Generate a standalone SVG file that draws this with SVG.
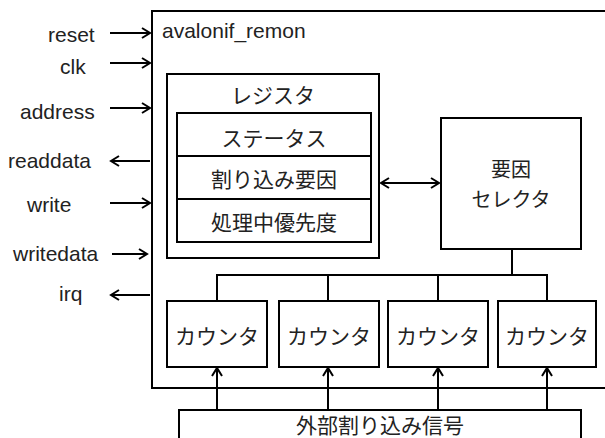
<svg xmlns="http://www.w3.org/2000/svg" width="605" height="438" viewBox="0 0 605 438">
<style>
.box{fill:#fff;stroke:#000;stroke-width:2}
.ln{fill:none;stroke:#000;stroke-width:2}
.lat{font-family:"Liberation Sans",Arial,sans-serif;font-size:21px;fill:#222}
.jp{font-family:"Noto Sans CJK JP","Noto Sans",sans-serif;font-size:21px;fill:#222;text-anchor:middle;dominant-baseline:central}
</style>
<defs>
<marker id="ah" markerUnits="userSpaceOnUse" markerWidth="14" markerHeight="14" viewBox="-10 -7 12 14" refX="0" refY="0" orient="auto-start-reverse">
<path d="M-8,-5 L0,0 L-8,5" fill="none" stroke="#000" stroke-width="2"/>
</marker>
</defs>
<rect width="605" height="438" fill="#fff"/>
<g id="avalonif_remon">
<rect class="box" x="152" y="11" width="470" height="377"/>
<text class="lat" x="162" y="38">avalonif_remon</text>
</g>
<g id="register">
<rect class="box" x="167" y="74" width="212" height="184"/>
<text class="jp" x="273" y="94">レジスタ</text>
<rect class="box" x="177" y="113" width="194" height="129"/>
<line class="ln" x1="177" y1="156" x2="371" y2="156"/>
<line class="ln" x1="177" y1="199" x2="371" y2="199"/>
<text class="jp" x="274" y="137">ステータス</text>
<text class="jp" x="274" y="178">割り込み要因</text>
<text class="jp" x="274" y="221">処理中優先度</text>
</g>
<g id="selector">
<rect class="box" x="441" y="118" width="140" height="131"/>
<text class="jp" x="511" y="168" style="font-size:20px">要因</text>
<text class="jp" x="511" y="198" style="font-size:20px">セレクタ</text>
</g>
<g id="counter1">
<rect class="box" x="167" y="301" width="100" height="66"/>
<text class="jp" x="217" y="335">カウンタ</text>
</g>
<g id="counter2">
<rect class="box" x="279" y="301" width="100" height="66"/>
<text class="jp" x="329" y="335">カウンタ</text>
</g>
<g id="counter3">
<rect class="box" x="388" y="301" width="100" height="66"/>
<text class="jp" x="438" y="335">カウンタ</text>
</g>
<g id="counter4">
<rect class="box" x="498" y="301" width="98" height="66"/>
<text class="jp" x="547" y="335">カウンタ</text>
</g>
<g id="external">
<rect class="box" x="179" y="410" width="402" height="40"/>
<text class="jp" x="380" y="424">外部割り込み信号</text>
</g>
<g id="signals">
<text class="lat" x="48" y="42">reset</text>
<text class="lat" x="60" y="74">clk</text>
<text class="lat" x="20" y="119">address</text>
<text class="lat" x="8" y="168">readdata</text>
<text class="lat" x="27" y="212">write</text>
<text class="lat" x="13" y="261">writedata</text>
<text class="lat" x="59" y="301">irq</text>
</g>
<g id="connectors">
<line class="ln" x1="110" y1="33" x2="150" y2="33" marker-end="url(#ah)"/>
<line class="ln" x1="110" y1="63" x2="150" y2="63" marker-end="url(#ah)"/>
<line class="ln" x1="110" y1="108" x2="150" y2="108" marker-end="url(#ah)"/>
<line class="ln" x1="150" y1="161" x2="111" y2="161" marker-end="url(#ah)"/>
<line class="ln" x1="110" y1="203" x2="150" y2="203" marker-end="url(#ah)"/>
<line class="ln" x1="112" y1="254" x2="147" y2="254" marker-end="url(#ah)"/>
<line class="ln" x1="150" y1="295" x2="111" y2="295" marker-end="url(#ah)"/>
<line class="ln" x1="381" y1="183" x2="439" y2="183" marker-start="url(#ah)" marker-end="url(#ah)"/>
<polyline class="ln" points="512,249 512,275"/>
<polyline class="ln" points="217,301 217,275 547,275 547,301"/>
<line class="ln" x1="328" y1="275" x2="328" y2="301"/>
<line class="ln" x1="438" y1="275" x2="438" y2="301"/>
<line class="ln" x1="217" y1="410" x2="217" y2="368" marker-end="url(#ah)"/>
<line class="ln" x1="328" y1="410" x2="328" y2="368" marker-end="url(#ah)"/>
<line class="ln" x1="438" y1="410" x2="438" y2="368" marker-end="url(#ah)"/>
<line class="ln" x1="547" y1="410" x2="547" y2="368" marker-end="url(#ah)"/>
</g>
</svg>
